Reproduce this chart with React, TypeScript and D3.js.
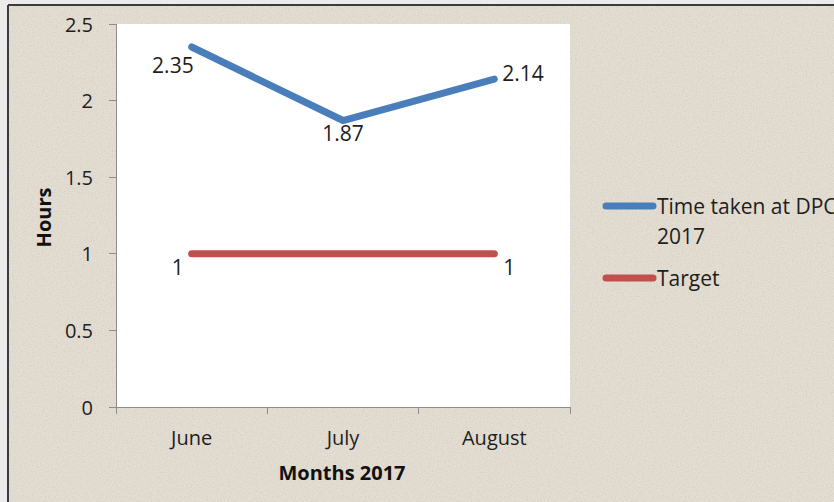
import React from "react";
import * as d3 from "d3";

const months = ["June", "July", "August"];
const timeTaken = [2.35, 1.87, 2.14];
const target = [1, 1, 1];
const yTicks = [0, 0.5, 1, 1.5, 2, 2.5];
const seriesNames = ["Time taken at DPC", "2017", "Target"];

const W = 834;
const H = 502;
const font = "'Open Sans', sans-serif";

export default function App() {
  const plot = { left: 116, right: 570, top: 24, bottom: 407 };

  const x = d3.scaleBand().domain(months).range([plot.left, plot.right]);
  const y = d3.scaleLinear().domain([0, 2.5]).range([plot.bottom, plot.top]);
  const cx = (m: string) => (x(m) as number) + x.bandwidth() / 2;

  const line = d3
    .line<number>()
    .x((_, i) => cx(months[i]))
    .y((d) => y(d));

  const bands = [...months.map((m) => x(m) as number), plot.right];

  return (
    <div style={{ position: "absolute", left: 0, top: 0 }}>
      <svg width={W} height={H} style={{ display: "block" }}>
        <defs>
          <filter id="paper" x="0" y="0" width="100%" height="100%">
            <feTurbulence type="fractalNoise" baseFrequency="0.8" numOctaves="3" seed="7" result="n" />
            <feColorMatrix
              type="matrix"
              values="0 0 0 0 0.6  0 0 0 0 0.56  0 0 0 0 0.5  0 0 0 -2.2 1.25"
            />
            <feComposite in2="SourceGraphic" operator="in" />
          </filter>
        </defs>
        <rect width={W} height={H} fill="#ebebeb" />
        <rect x={9} y={6} width={W} height={H} fill="#e3ddd2" />
        <rect x={9} y={6} width={W} height={H} fill="#e3ddd2" filter="url(#paper)" opacity={0.6} />
        <line x1={8} x2={W} y1={5} y2={5} stroke="#3c3c3c" strokeWidth={2} />
        <line x1={8} x2={8} y1={5} y2={H} stroke="#3c3c3c" strokeWidth={2} />

        <rect
          x={plot.left}
          y={plot.top}
          width={plot.right - plot.left}
          height={plot.bottom - plot.top}
          fill="#ffffff"
        />

        {/* axes */}
        <g stroke="#8c8c8c" strokeWidth={1} shapeRendering="crispEdges">
          <line x1={plot.left} x2={plot.left} y1={plot.top} y2={plot.bottom} />
          <line x1={plot.left} x2={plot.right} y1={plot.bottom} y2={plot.bottom} />
          {yTicks.map((t) => (
            <line key={t} x1={plot.left - 7} x2={plot.left} y1={y(t)} y2={y(t)} />
          ))}
          {bands.map((b, i) => (
            <line key={i} x1={b} x2={b} y1={plot.bottom} y2={plot.bottom + 7} />
          ))}
        </g>

        <g fontFamily={font} fontSize={20} fill="#1e1e1e">
          {yTicks.map((t) => (
            <text key={t} x={93} y={y(t)} textAnchor="end" dominantBaseline="central">
              {t}
            </text>
          ))}
          {months.map((m) => (
            <text key={m} x={cx(m)} y={437} textAnchor="middle" dominantBaseline="central">
              {m}
            </text>
          ))}
        </g>

        <text
          x={342}
          y={472}
          textAnchor="middle"
          dominantBaseline="central"
          fontFamily={font}
          fontSize={20}
          fontWeight="bold"
          fill="#111"
        >
          Months 2017
        </text>
        <text
          transform={`translate(43,${(plot.top + plot.bottom) / 2 + 2}) rotate(-90)`}
          textAnchor="middle"
          dominantBaseline="central"
          fontFamily={font}
          fontSize={20}
          fontWeight="bold"
          fill="#111"
        >
          Hours
        </text>

        {/* series */}
        <path d={line(target) as string} fill="none" stroke="#c0504d" strokeWidth={7} strokeLinecap="round" />
        <path
          d={line(timeTaken) as string}
          fill="none"
          stroke="#4a7ebb"
          strokeWidth={7}
          strokeLinecap="round"
          strokeLinejoin="round"
        />

        {/* data labels */}
        <g fontFamily={font} fontSize={21} fill="#1e1e1e" dominantBaseline="central">
          <text x={cx(months[0]) + 2} y={y(timeTaken[0]) + 18} textAnchor="end">{timeTaken[0]}</text>
          <text x={cx(months[1])} y={y(timeTaken[1]) + 12} textAnchor="middle">{timeTaken[1]}</text>
          <text x={cx(months[2]) + 8} y={y(timeTaken[2]) - 6}>{timeTaken[2]}</text>
          <text x={cx(months[0]) - 8} y={y(target[0]) + 13} textAnchor="end">{target[0]}</text>
          <text x={cx(months[2]) + 9} y={y(target[2]) + 13}>{target[2]}</text>
        </g>

        {/* legend */}
        <g fontFamily={font} fontSize={21} fill="#1e1e1e">
          <line x1={606} x2={653} y1={206} y2={206} stroke="#4a7ebb" strokeWidth={7} strokeLinecap="round" />
          <text x={657} y={206} dominantBaseline="central">{seriesNames[0]}</text>
          <text x={657} y={236} dominantBaseline="central">{seriesNames[1]}</text>
          <line x1={606} x2={653} y1={278} y2={278} stroke="#c0504d" strokeWidth={7} strokeLinecap="round" />
          <text x={657} y={278} dominantBaseline="central">{seriesNames[2]}</text>
        </g>
      </svg>
    </div>
  );
}
